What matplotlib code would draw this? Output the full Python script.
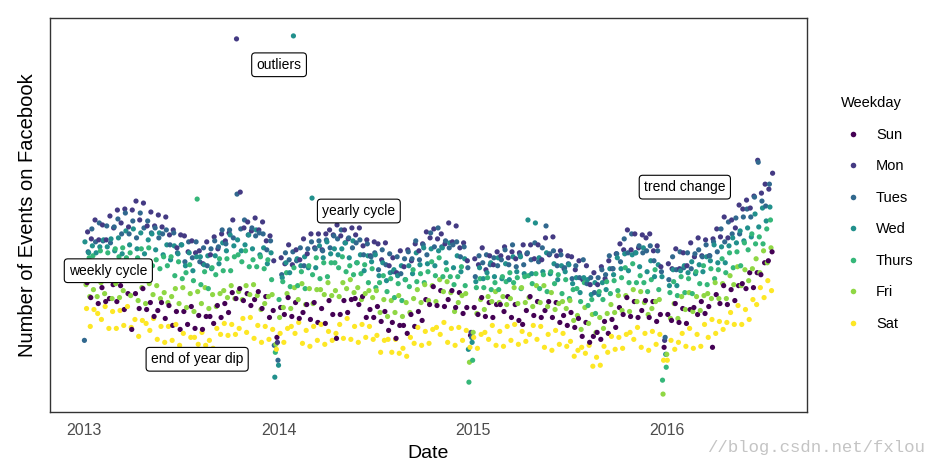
import matplotlib
matplotlib.use("Agg")
import matplotlib.pyplot as plt
from matplotlib.lines import Line2D
import pandas as pd

plt.rcParams['font.family'] = ['Liberation Sans', 'DejaVu Sans']

# ---- data: one value per week for each weekday (events, arbitrary units) ----
weekdays = ["Sun", "Mon", "Tues", "Wed", "Thurs", "Fri", "Sat"]
first_dates = {"Tues": "2013-01-01", "Wed": "2013-01-02", "Thurs": "2013-01-03",
               "Fri": "2013-01-04", "Sat": "2013-01-05", "Sun": "2013-01-06",
               "Mon": "2013-01-07"}

mon = [178,171,190,170,185, 170,194,182,200, 187,201,183,200, 209,190,207,184,198,
       184,195,183,193, 175,180,162,175, 174,158,169,157,159, 146,168,155,173,
       161,176,169,177, 190,372,218,182,188, 179,192,180,188, 169,174,149,67,
       152,146,165,145,160, 150,171,156,176, 162,176,160,176, 180,175,185,174,180,
       171,182,175,182, 164,170,154,168, 166,150,167,144,152, 137,159,143,160,
       149,166,159,166,178, 172,181,171,176, 166,187,168,184, 162,167,149,77,
       151,145,162,140,154, 145,158,154,163, 152,158,151,157,165, 156,165,151,165,
       150,172,155,173, 154,159,141,154,153, 140,149,130,144, 125,137,125,143,
       131,149,141,156,166, 160,180,160,176, 162,175,172,176, 159,164,143,69,146,
       141,161,141,157, 144,167,153,172, 154,170,154,171,181, 173,193,172,190,
       182,205,201,210,202, 214,250,217,226, 221,237]

tues = [69,158,181,168,187, 169,184,167,183, 191,176,197,176, 189,172,197,182,189,
        177,182,172,176, 180,165,177,157, 165,148,168,152,168, 148,162,144,161,
        169,163,180,166, 180,172,216,181,190, 175,182,174,177, 176,160,169,64,
        49,135,157,150,158, 149,162,144,161, 168,161,169,159, 170,162,174,171,180,
        167,172,162,167, 170,155,166,153, 157,140,160,145,156, 138,153,136,151,
        158,151,169,150,165, 155,177,163,182, 163,169,162,165, 168,153,163,142,
        72,133,154,147,155, 145,152,144,150, 160,145,165,143,155, 145,157,150,167,
        148,162,184,156, 159,144,155,142,146, 131,144,132,150, 126,132,117,132,
        140,135,154,141,156, 148,171,157,176, 157,164,157,159, 164,149,159,138,72,
        130,153,140,158, 142,157,141,156, 160,153,165,154,168, 158,181,168,188,
        176,192,176,193,201, 193,213,248,209, 204,226]

wed = [168,157,164,157,163, 170,163,171,159, 172,156,179,165, 181,161,177,156,170,
       176,160,177,155, 165,150,164,156, 165,144,157,139,153, 153,145,154,141,
       154,146,167,159, 175,164,170,159,165, 175,161,180,155, 162,146,157,32,
       44,132,147,137,375, 151,144,153,142, 212,142,164,152, 168,156,161,155,161,
       167,152,169,147, 155,139,154,148, 155,134,147,129,137, 140,134,144,130,
       144,136,157,145,162, 146,161,144,159, 162,147,167,142, 154,138,151,60,
       67,128,142,131,137, 147,133,152,131, 146,130,153,138,153, 136,190,136,187,
       152,138,157,136, 146,130,144,138,145, 126,132,117,132, 130,115,127,115,
       127,120,141,135,152, 141,156,139,155, 157,143,162,138, 149,133,145,133,55,
       124,140,124,139, 144,137,148,136, 145,138,153,149,165, 147,163,147,164,
       172,167,179,169,182, 173,196,183,202, 189,203]

thurs = [137,152,154,148,159, 142,157,139,161, 153,162,152,157, 148,152,161,145,162,
         144,150,141,153, 144,153,134,148, 131,137,145,129,211, 125,138,121,142,
         135,151,139,151, 139,153,155,148,159, 143,150,143,153, 141,150,130,57,
         110,128,137,123,142, 124,138,121,144, 135,152,131,147, 133,147,147,142,153,
         138,144,135,147, 136,145,127,141, 122,127,134,118,131, 112,126,109,130,
         123,140,128,136,127, 138,148,134,152, 133,140,133,125, 133,143,124,27,
         49,122,131,122,132, 120,127,120,133, 128,137,127,132,121, 133,134,126,136,
         121,135,118,138, 126,135,116,130,111, 120,121,108,127, 104,110,96,118,
         110,128,116,129,119, 132,142,127,146, 127,134,127,118, 130,140,120,29,42,
         117,128,114,133, 117,131,116,138, 126,144,125,141,131, 140,151,137,157,
         142,158,144,167,160, 176,166,173,166, 181,190]

fri = [125,113,120,113,127, 116,133,111,126, 112,119,130,114, 131,109,122,106,126,
       115,124,111,117, 107,113,121,106, 122,102,116,98,118, 106,122,101,115,
       103,116,119,112, 124,111,118,110,124, 115,125,114,100, 106,113,115,65,
       92,102,116,101,122, 110,126,105,121, 106,120,120,115, 127,114,119,113,127,
       121,130,117,122, 110,116,119,112, 119,97,110,93,109, 97,114,93,107,
       97,111,120,107,125, 109,124,108,130, 118,128,117,98, 107,114,116,47,
       77,96,110,100,113, 108,118,107,113, 105,111,122,106,122, 107,112,103,124,
       107,124,103,117, 100,106,108,101,109, 89,94,80,102, 86,95,77,92,
       81,96,105,97,114, 99,114,98,120, 108,118,107,95, 101,108,110,15,55,
       91,106,91,113, 100,117,98,113, 99,114,116,111,127, 111,126,111,134,
       125,143,124,140,129, 141,151,137,159, 147,162]

sun = [127,112,132,106,122, 108,111,125,108, 124,100,116,80, 116,101,121,100,107,
       93,99,107,91, 104,84,98,80, 98,85,103,81,94, 80,93,93,86,
       104,92,106,97, 117,111,121,109,116, 104,110,118,101, 113,92,99,72,
       102,95,112,93,107, 91,97,105,90, 107,87,101,86, 109,95,71,95,109,
       97,110,111,105, 113,92,100,92, 103,88,98,79,87, 71,84,84,76,
       95,83,98,89,110, 105,123,104,119, 103,110,119,102, 117,96,102,74,
       102,95,112,93,107, 92,105,105,98, 113,92,105,89,85, 99,113,94,108,
       92,99,108,92, 107,87,94,84,97, 82,91,73,87, 67,73,77,70,
       88,76,90,82,102, 95,112,93,108, 92,99,109,92, 108,88,95,62,95,
       89,106,87,101, 86,100,102,95, 108,96,103,62,115, 106,124,105,120,
       109,124,126,121,137, 122,137,135,147, 149,158]

sat = [101,83,100,96,90, 103,81,98,81, 99,84,103,82, 90,73,89,86,79,
       91,70,83,67, 83,69,85,64, 76,59,72,72,65, 77,64,69,61,
       81,75,86,74, 85,75,81,91,77, 92,71,84,67, 83,70,80,60,
       76,67,81,83,76, 87,66,79,63, 83,69,85,65, 78,69,76,85,71,
       91,70,83,67, 85,72,83,70, 74,57,69,70,57, 70,56,61,53,
       72,66,82,64,78, 66,80,82,75, 87,67,81,64, 82,69,79,62,
       72,61,75,77,70, 84,64,78,63, 83,69,85,65,78, 68,75,84,70,
       83,62,75,59, 79,65,76,63,68, 53,59,62,56, 64,43,52,44,
       63,57,73,60,72, 61,75,77,70, 82,62,76,59, 78,65,75,49,49,
       69,60,67,76, 63,81,61,75, 63,85,72,90,76, 88,80,87,97,
       85,104,85,100,90, 110,105,122,112, 129,119]

series = {"Sun": sun, "Mon": mon, "Tues": tues, "Wed": wed,
          "Thurs": thurs, "Fri": fri, "Sat": sat}

year_ticks = ["2013", "2014", "2015", "2016"]

annotations = [("outliers", "2014-01-02", 346),
               ("yearly cycle", "2014-06-01", 199),
               ("weekly cycle", "2013-02-15", 139),
               ("end of year dip", "2013-08-01", 50),
               ("trend change", "2016-02-04", 223)]

colors = ["#440154", "#443A83", "#31688E", "#21908C", "#35B779", "#8FD744", "#FDE725"]
color_map = dict(zip(weekdays, colors))

# ---- build long table ----
frames = []
for wd in weekdays:
    vals = series[wd]
    d = pd.date_range(first_dates[wd], periods=len(vals), freq="7D")
    frames.append(pd.DataFrame({"date": d, "y": vals, "wd": wd}))
df = pd.concat(frames).sort_values("date").reset_index(drop=True)

fig = plt.figure(figsize=(9.28, 4.69), dpi=100)
ax = fig.add_axes([50/928, 1-412/469, 757/928, 394/469])

ax.scatter(df["date"], df["y"], c=df["wd"].map(color_map), s=14, linewidths=0, zorder=2)

ax.margins(x=0.05, y=0.05)
ax.set_yticks([])
ax.set_xticks([pd.Timestamp(f"{y}-01-01") for y in year_ticks])
ax.set_xticklabels(year_ticks, fontsize=11.5, color="#4D4D4D")
ax.tick_params(axis="x", length=0, pad=8)
for sp in ax.spines.values():
    sp.set_color("#333333")
    sp.set_linewidth(1.0)

ax.set_xlabel("Date", fontsize=14, labelpad=5)
ax.set_ylabel("Number of Events on Facebook", fontsize=14.5, labelpad=9)

for text, d, yv in annotations:
    ax.text(pd.Timestamp(d), yv, text, ha="center", va="center", fontsize=10, zorder=5,
            bbox=dict(boxstyle="round,pad=0.35,rounding_size=0.25", fc="white", ec="black", lw=0.8))

handles = [Line2D([0], [0], marker="o", color="none", markerfacecolor=c, markeredgecolor="none",
                  markersize=4) for c in colors]
leg = fig.legend(handles, weekdays, title="Weekday", loc="upper left",
                 bbox_to_anchor=(828/928, 1-83/469), frameon=False, fontsize=10.5,
                 title_fontsize=10.5, labelspacing=1.2, handletextpad=0.8, handlelength=1.6)
leg._legend_box.align = "left"

fig.text(925/928, 1-447/469, "//blog.csdn.net/fxlou", ha="right", va="center",
         fontsize=12.5, color="#C4C4C4", family=["Liberation Mono", "DejaVu Sans Mono"])

fig.savefig("out.png", dpi=100)
